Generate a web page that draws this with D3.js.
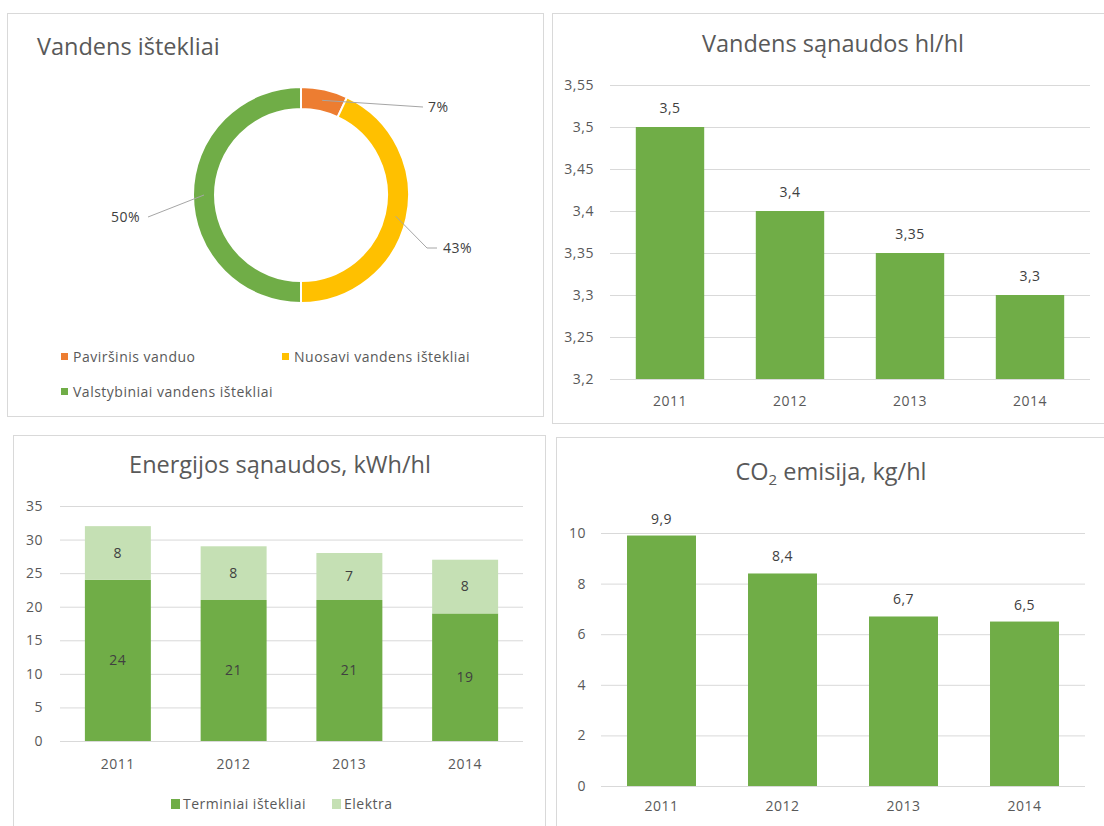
<!DOCTYPE html>
<html>
<head>
<meta charset="utf-8">
<script src="https://cdn.jsdelivr.net/npm/d3@7"></script>
<style>
  body { margin: 0; background: #fff; }
  text { font-family: "Open Sans", sans-serif; fill: #595959; }
  .small { letter-spacing: 0.5px; }
</style>
</head>
<body>
<svg id="chart" width="1104" height="826"></svg>
<script>
// duomenys
const sourceNames = ["Paviršinis vanduo", "Nuosavi vandens ištekliai", "Valstybiniai vandens ištekliai"];
const sourceShares = [7, 43, 50];
const sourceColors = ["#ED7D31", "#FFC000", "#70AD47"];

const years = ["2011", "2012", "2013", "2014"];

const waterUse = [3.5, 3.4, 3.35, 3.3];
const waterTicks = [3.2, 3.25, 3.3, 3.35, 3.4, 3.45, 3.5, 3.55];

const energyNames = ["Terminiai ištekliai", "Elektra"];
const thermal = [24, 21, 21, 19];
const electricity = [8, 8, 7, 8];
const energyTicks = [0, 5, 10, 15, 20, 25, 30, 35];

const co2 = [9.9, 8.4, 6.7, 6.5];
const co2Ticks = [0, 2, 4, 6, 8, 10];

const green = "#70AD47", lightGreen = "#C5E0B4", grid = "#D9D9D9";
const fmt = v => String(v).replace(".", ",");
const FS = 14, TS = 23.5;

const svg = d3.select("#chart");

// remeliai
function frame(x, y, w, h) {
  svg.append("rect").attr("x", x + 0.5).attr("y", y + 0.5)
    .attr("width", w).attr("height", h)
    .attr("fill", "#fff").attr("stroke", grid);
}
frame(7, 13, 536, 403);
frame(552, 13, 560, 410);
frame(13, 435, 532, 400);
frame(556, 437, 560, 400);

// ===== 1: donut =====
const g1 = svg.append("g");
g1.append("text").attr("x", 37).attr("y", 47).attr("dy", "0.35em")
  .attr("font-size", TS).text("Vandens ištekliai");

const cx = 301, cy = 195, rOut = 108, rIn = 86;
const pie = d3.pie().sort(null)(sourceShares);
const arc = d3.arc().innerRadius(rIn).outerRadius(rOut);
const donut = g1.append("g").attr("transform", `translate(${cx},${cy})`);
donut.selectAll("path").data(pie).join("path")
  .attr("d", arc)
  .attr("fill", (d, i) => sourceColors[i])
  .attr("stroke", "#fff").attr("stroke-width", 2);

// label vietos (poslinkis nuo centro) ir linijos
const labelOffsets = [[127, -88], [142, 53], [-161, 22]];
const labelAnchor = ["start", "start", "end"];
pie.forEach((d, i) => {
  const c = arc.centroid(d);
  const [lx, ly] = labelOffsets[i];
  let pts;
  if (i === 1) pts = [c, [lx - 16, ly], [lx - 6, ly]];
  else if (i === 0) pts = [c, [lx - 5, ly]];
  else pts = [c, [lx + 8, ly]];
  donut.append("path")
    .attr("d", d3.line()(pts))
    .attr("fill", "none").attr("stroke", "#A6A6A6").attr("stroke-width", 1);
  donut.append("text").attr("class", "small")
    .attr("x", lx).attr("y", ly).attr("dy", "0.35em")
    .attr("text-anchor", labelAnchor[i])
    .attr("font-size", FS).style("fill", "#404040")
    .text(d.data + "%");
});

// legenda
const legPos = [[61, 357], [282, 357], [61, 392]];
sourceNames.forEach((name, i) => {
  const [lx, ly] = legPos[i];
  g1.append("rect").attr("x", lx).attr("y", ly - 4).attr("width", 7).attr("height", 7)
    .attr("fill", sourceColors[i]);
  g1.append("text").attr("class", "small").attr("x", lx + 12).attr("y", ly).attr("dy", "0.35em")
    .attr("font-size", FS).text(name);
});

// ===== stulpeliu diagramos =====
function barChart(opt) {
  const g = svg.append("g");
  const x = d3.scaleBand().domain(years).range(opt.xr).paddingInner(0.43).paddingOuter(0.215);
  const y = d3.scaleLinear().domain(opt.domain).range(opt.yr);

  g.append("g").attr("transform", `translate(${opt.xr[0]},0)`)
    .call(d3.axisLeft(y).tickValues(opt.ticks).tickSize(-(opt.xr[1] - opt.xr[0]))
      .tickPadding(opt.yPad).tickFormat(fmt))
    .call(a => a.select(".domain").remove())
    .call(a => a.selectAll("line").attr("stroke", grid))
    .call(a => a.selectAll("text").attr("class", "small").attr("font-size", FS)
      .attr("font-family", null).style("fill", "#595959"));

  g.append("g").attr("transform", `translate(0,${opt.yr[0]})`)
    .call(d3.axisBottom(x).tickSize(0).tickPadding(opt.xPad))
    .call(a => a.select(".domain").remove())
    .call(a => a.selectAll("text").attr("class", "small").attr("font-size", FS)
      .attr("font-family", null).style("fill", "#595959"));

  const title = g.append("text").attr("x", opt.titleX).attr("y", opt.titleY).attr("dy", "0.35em")
    .attr("text-anchor", "middle").attr("font-size", TS);
  opt.title(title);
  return { g, x, y };
}

// 2: vandens sanaudos
{
  const { g, x, y } = barChart({
    xr: [610, 1090], yr: [379, 85], domain: [3.2, 3.55], ticks: waterTicks,
    yPad: 16, xPad: 17, titleX: 833, titleY: 44,
    title: t => t.text("Vandens sąnaudos hl/hl")
  });
  g.selectAll(".bar").data(waterUse).join("rect")
    .attr("x", (d, i) => x(years[i])).attr("width", x.bandwidth())
    .attr("y", d => y(d)).attr("height", d => y(3.2) - y(d))
    .attr("fill", green);
  g.selectAll(".lbl").data(waterUse).join("text").attr("class", "small")
    .attr("x", (d, i) => x(years[i]) + x.bandwidth() / 2)
    .attr("y", d => y(d) - 14).attr("text-anchor", "middle")
    .attr("font-size", FS).style("fill", "#404040").text(fmt);
}

// 3: energijos sanaudos (sudeti stulpeliai)
{
  const { g, x, y } = barChart({
    xr: [60, 523], yr: [741, 506], domain: [0, 35], ticks: energyTicks,
    yPad: 17, xPad: 18, titleX: 280, titleY: 465,
    title: t => t.text("Energijos sąnaudos, kWh/hl")
  });
  const rows = years.map((yr, i) => ({ year: yr, t: thermal[i], e: electricity[i] }));
  const stack = d3.stack().keys(["t", "e"])(rows);
  const fills = [green, lightGreen];
  stack.forEach((layer, k) => {
    g.append("g").selectAll("rect").data(layer).join("rect")
      .attr("x", d => x(d.data.year)).attr("width", x.bandwidth())
      .attr("y", d => y(d[1])).attr("height", d => y(d[0]) - y(d[1]))
      .attr("fill", fills[k]);
    g.append("g").selectAll("text").data(layer).join("text").attr("class", "small")
      .attr("x", d => x(d.data.year) + x.bandwidth() / 2)
      .attr("y", d => (y(d[0]) + y(d[1])) / 2).attr("dy", "0.35em")
      .attr("text-anchor", "middle").attr("font-size", FS).style("fill", "#404040")
      .text(d => d[1] - d[0]);
  });
  const legX = [171, 332];
  energyNames.forEach((name, i) => {
    g.append("rect").attr("x", legX[i]).attr("y", 799).attr("width", 9).attr("height", 10).attr("fill", fills[i]);
    g.append("text").attr("class", "small").attr("x", legX[i] + 12).attr("y", 804).attr("dy", "0.35em")
      .attr("font-size", FS).text(name);
  });
}

// 4: CO2 emisija
{
  const { g, x, y } = barChart({
    xr: [601, 1085], yr: [786, 533], domain: [0, 10], ticks: co2Ticks,
    yPad: 15, xPad: 15, titleX: 831, titleY: 472,
    title: t => {
      t.append("tspan").text("CO");
      t.append("tspan").attr("font-size", 15).attr("dy", 5).text("2");
      t.append("tspan").attr("dy", -5).text(" emisija, kg/hl");
    }
  });
  g.selectAll(".bar").data(co2).join("rect")
    .attr("x", (d, i) => x(years[i])).attr("width", x.bandwidth())
    .attr("y", d => y(d)).attr("height", d => y(0) - y(d))
    .attr("fill", green);
  g.selectAll(".lbl").data(co2).join("text").attr("class", "small")
    .attr("x", (d, i) => x(years[i]) + x.bandwidth() / 2)
    .attr("y", d => y(d) - 12).attr("text-anchor", "middle")
    .attr("font-size", FS).style("fill", "#404040").text(fmt);
}
</script>
</body>
</html>
